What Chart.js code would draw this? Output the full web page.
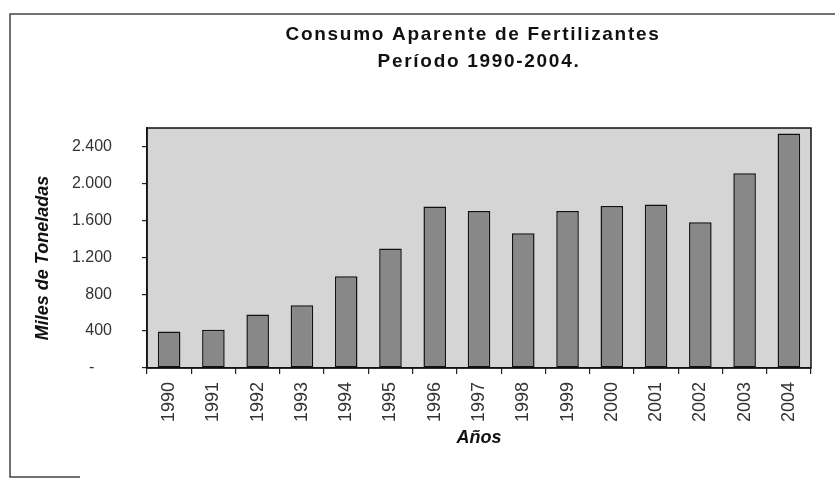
<!DOCTYPE html>
<html>
<head>
<meta charset="utf-8">
<script src="https://cdn.jsdelivr.net/npm/chart.js@4/dist/chart.umd.min.js"></script>
<style>
  html, body { margin: 0; padding: 0; background: #ffffff; }
  canvas { display: block; }
</style>
</head>
<body>
<canvas id="chart" width="835" height="479"></canvas>
<script>
// Data
const years = ['1990', '1991', '1992', '1993', '1994', '1995', '1996', '1997',
               '1998', '1999', '2000', '2001', '2002', '2003', '2004'];
const consumo = [395, 415, 580, 680, 995, 1295, 1750, 1700,
                 1460, 1700, 1755, 1770, 1580, 2110, 2540];
const titleLines = ['Consumo Aparente de Fertilizantes', 'Período 1990-2004.'];
const yTitle = 'Miles de Toneladas';
const xTitle = 'Años';

const FONT = "'Liberation Sans', Arial, sans-serif";

function fmtThousands(v) {
  if (v === 0) return '-    ';
  return String(v).replace(/\B(?=(\d{3})+(?!\d))/g, '.');
}

// plot box fill + border, outer frame and spaced-out title
const decorations = {
  id: 'decorations',
  beforeDraw(chart) {
    const { ctx, chartArea: a } = chart;
    ctx.save();
    ctx.fillStyle = '#d5d5d5';
    ctx.fillRect(a.left, a.top, a.right - a.left, a.bottom - a.top);
    ctx.restore();
  },
  afterDraw(chart) {
    const { ctx, chartArea: a } = chart;
    ctx.save();
    ctx.strokeStyle = '#111';
    ctx.lineWidth = 1.5;
    ctx.strokeRect(a.left, a.top, a.right - a.left, a.bottom - a.top);

    // outer frame (right side runs off the scan)
    ctx.strokeStyle = '#444';
    ctx.lineWidth = 1.5;
    ctx.beginPath();
    ctx.moveTo(835, 14);
    ctx.lineTo(10, 14);
    ctx.lineTo(10, 477);
    ctx.lineTo(80, 477);
    ctx.stroke();

    // title
    ctx.fillStyle = '#111';
    ctx.font = 'bold 19px ' + FONT;
    ctx.textAlign = 'center';
    ctx.textBaseline = 'alphabetic';
    if ('letterSpacing' in ctx) ctx.letterSpacing = '1.7px';
    ctx.fillText(titleLines[0], 473, 40);
    ctx.fillText(titleLines[1], 479, 67);
    ctx.restore();
  }
};

const ctx = document.getElementById('chart');

new Chart(ctx, {
  type: 'bar',
  data: {
    labels: years,
    datasets: [{
      label: 'Consumo',
      data: consumo,
      backgroundColor: '#888888',
      borderColor: '#111',
      borderWidth: 1.5,
      borderSkipped: false,
      barPercentage: 0.51,
      categoryPercentage: 1.0
    }]
  },
  options: {
    responsive: false,
    animation: false,
    layout: { padding: { top: 128, left: 28, right: 24, bottom: 26 } },
    plugins: {
      legend: { display: false },
      title: { display: false },
      tooltip: { enabled: false }
    },
    scales: {
      x: {
        offset: true,
        grid: {
          offset: true,
          drawOnChartArea: false,
          drawTicks: true,
          tickLength: 6,
          color: '#222',
          lineWidth: 1.2
        },
        border: { display: true, color: '#111', width: 1.5 },
        ticks: {
          minRotation: 90,
          maxRotation: 90,
          padding: 8,
          color: '#333',
          font: { family: FONT, size: 18 }
        },
        title: {
          display: true,
          text: xTitle,
          color: '#111',
          font: { family: FONT, size: 18, weight: 'bold', style: 'italic' },
          padding: { top: 4, bottom: 4 }
        },
        afterFit(scale) { scale.height = 85; }
      },
      y: {
        min: 0,
        max: 2600,
        grid: {
          drawOnChartArea: false,
          drawTicks: true,
          tickLength: 5,
          color: '#222',
          lineWidth: 1.2
        },
        border: { display: true, color: '#111', width: 1.5 },
        ticks: {
          stepSize: 400,
          padding: 30,
          color: '#333',
          font: { family: FONT, size: 16 },
          callback: (v) => fmtThousands(v)
        },
        afterBuildTicks(scale) {
          scale.ticks = scale.ticks.filter(t => t.value % 400 === 0);
        },
        title: {
          display: true,
          text: yTitle + '    ',
          color: '#111',
          font: { family: FONT, size: 18, weight: 'bold', style: 'italic' },
          padding: { top: 4, bottom: 4 }
        },
        afterFit(scale) { scale.width = 119; }
      }
    }
  },
  plugins: [decorations]
});
</script>
</body>
</html>
